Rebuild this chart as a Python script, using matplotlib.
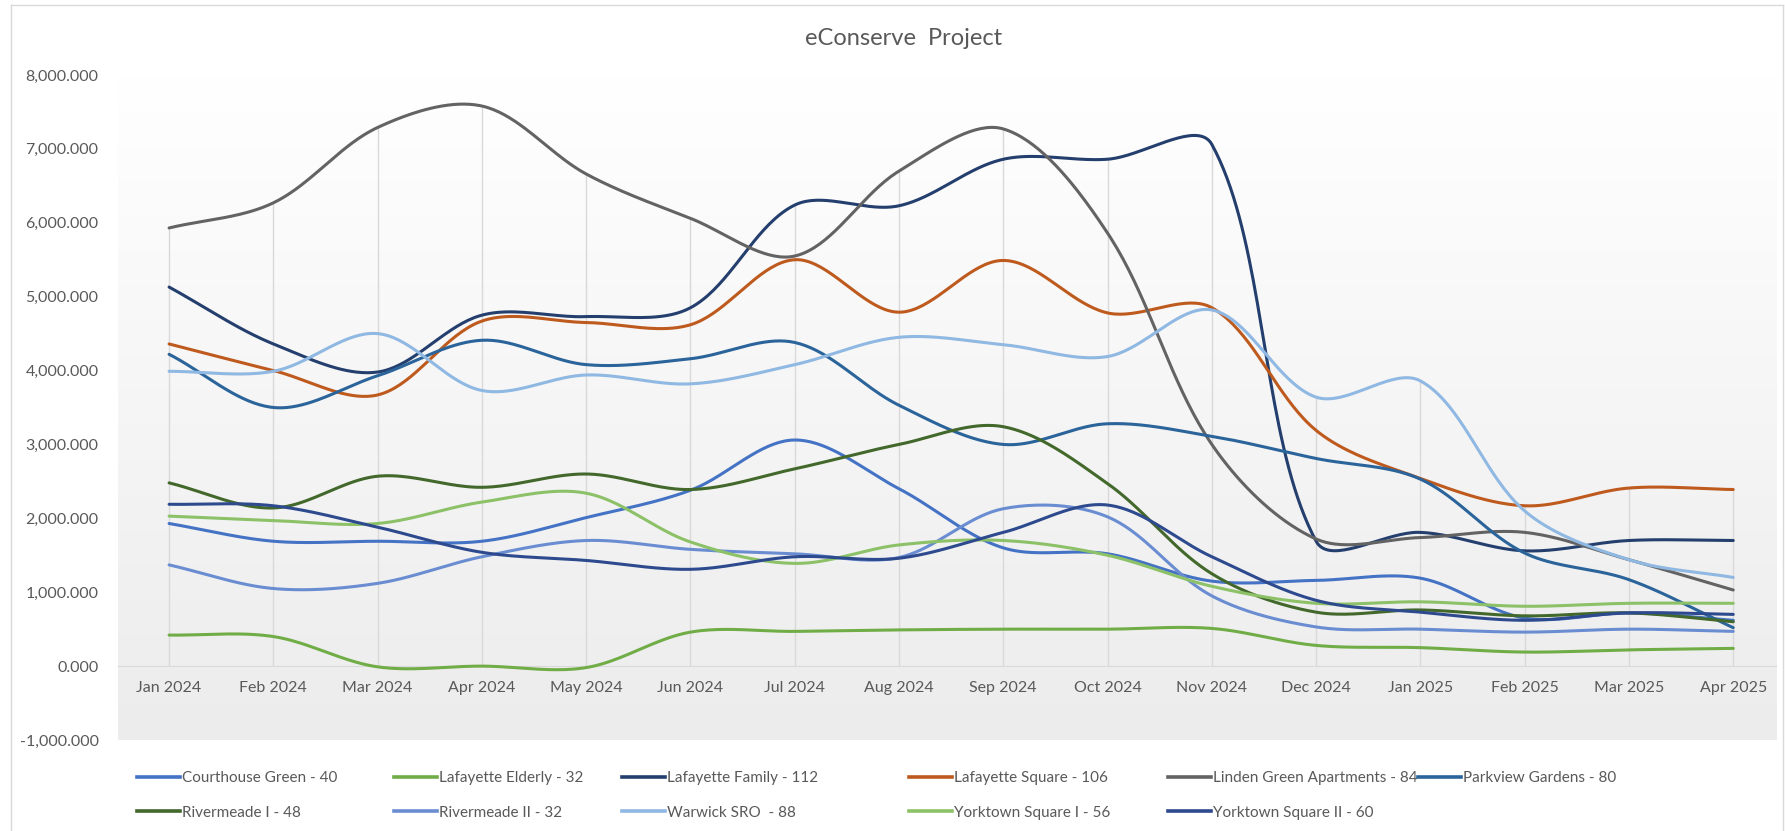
import numpy as np
import matplotlib
matplotlib.use("Agg")
import matplotlib.pyplot as plt
from matplotlib.lines import Line2D

plt.rcParams["font.family"] = ["Lato", "DejaVu Sans"]

# -----------------------------
# data (thousands, axis shows x,xxx.xxx)
# -----------------------------
months = ["Jan 2024", "Feb 2024", "Mar 2024", "Apr 2024", "May 2024", "Jun 2024",
          "Jul 2024", "Aug 2024", "Sep 2024", "Oct 2024", "Nov 2024", "Dec 2024",
          "Jan 2025", "Feb 2025", "Mar 2025", "Apr 2025"]

courthouse_green = [1930, 1690, 1690, 1690, 2010, 2380, 3060, 2400, 1600, 1520, 1150, 1160, 1190, 650, 720, 620]
lafayette_elderly = [420, 400, -10, 0, -20, 460, 470, 490, 500, 500, 510, 280, 250, 190, 220, 240]
lafayette_family = [5130, 4360, 3980, 4750, 4730, 4850, 6240, 6230, 6860, 6860, 7060, 1690, 1810, 1560, 1700, 1700]
lafayette_square = [4360, 4000, 3670, 4670, 4650, 4620, 5500, 4790, 5490, 4780, 4850, 3190, 2540, 2170, 2410, 2390]
linden_green = [5930, 6270, 7290, 7580, 6660, 6060, 5550, 6700, 7270, 5860, 3000, 1720, 1740, 1810, 1440, 1030]
parkview_gardens = [4220, 3500, 3930, 4410, 4080, 4160, 4380, 3530, 3000, 3280, 3110, 2810, 2530, 1530, 1170, 520]
rivermeade_i = [2480, 2140, 2570, 2420, 2600, 2390, 2670, 3000, 3240, 2470, 1250, 730, 760, 680, 720, 600]
rivermeade_ii = [1370, 1050, 1120, 1480, 1700, 1580, 1520, 1470, 2130, 2020, 950, 530, 500, 460, 500, 470]
warwick_sro = [3990, 3990, 4500, 3730, 3940, 3820, 4080, 4450, 4350, 4190, 4820, 3640, 3860, 2100, 1440, 1200]
yorktown_i = [2030, 1970, 1930, 2220, 2340, 1680, 1390, 1640, 1700, 1500, 1080, 850, 870, 810, 850, 850]
yorktown_ii = [2190, 2170, 1880, 1540, 1430, 1310, 1480, 1460, 1810, 2180, 1480, 890, 730, 620, 720, 700]

series = [
    ("Courthouse Green - 40", courthouse_green, "#4472C4"),
    ("Lafayette Elderly - 32", lafayette_elderly, "#70AD47"),
    ("Lafayette Family - 112", lafayette_family, "#243F6E"),
    ("Lafayette Square - 106", lafayette_square, "#BE5A1E"),
    ("Linden Green Apartments - 84", linden_green, "#636363"),
    ("Parkview Gardens - 80", parkview_gardens, "#2A649A"),
    ("Rivermeade I - 48", rivermeade_i, "#43682B"),
    ("Rivermeade II - 32", rivermeade_ii, "#6A8DD2"),
    ("Warwick SRO  - 88", warwick_sro, "#8FB8E2"),
    ("Yorktown Square I - 56", yorktown_i, "#8CC168"),
    ("Yorktown Square II - 60", yorktown_ii, "#2E4A8E"),
]

# pixel size of one category / one unit, used so smoothing works in screen space
PX_X = 104.3
PX_Y = 0.0739


# Excel-style smoothed line: bezier with tangents split by chord length
def smooth(vals, n=40):
    y = np.asarray(vals, float) * PX_Y
    x = np.arange(len(y), dtype=float) * PX_X
    P = np.column_stack([x, y])
    m = len(P)
    out = []
    t = np.linspace(0, 1, n)[:, None]
    for i in range(m - 1):
        p1, p2 = P[i], P[i + 1]
        p0 = P[i - 1] if i > 0 else p1
        p3 = P[i + 2] if i + 2 < m else p2
        d12 = np.linalg.norm(p2 - p1)
        d01 = np.linalg.norm(p1 - p0)
        d23 = np.linalg.norm(p3 - p2)
        b1 = p1 + (p2 - p0) * (d12 / (d01 + d12)) / 3 if i > 0 else p1 + (p2 - p1) / 3
        b2 = p2 - (p3 - p1) * (d12 / (d12 + d23)) / 3 if i + 2 < m else p2 - (p2 - p1) / 3
        seg = ((1 - t) ** 3 * p1 + 3 * (1 - t) ** 2 * t * b1
               + 3 * (1 - t) * t ** 2 * b2 + t ** 3 * p2)
        out.append(seg)
    c = np.vstack(out)
    return c[:, 0] / PX_X, c[:, 1] / PX_Y


W, H = 1785, 831
fig = plt.figure(figsize=(W / 100, H / 100), dpi=100)
ax = fig.add_axes([118 / W, 1 - 740 / H, (1776 - 118) / W, (740 - 75) / H])

# plot area gradient, white on top to light grey at the bottom
grad = np.linspace(0, 1, 256).reshape(-1, 1)
cmap = matplotlib.colors.LinearSegmentedColormap.from_list("g", ["#FFFFFF", "#ECECEC"])
ax.imshow(grad, aspect="auto", cmap=cmap, extent=(-0.49, 15.41, -1000, 8000),
          zorder=0, origin="upper")
ax.set_xlim(-0.49, 15.41)
ax.set_ylim(-1000, 8000)

x = np.arange(len(months))

# drop lines from highest point down to the category axis
top = np.max([s[1] for s in series], axis=0)
ax.vlines(x, 0, top, color="#D9D9D9", lw=1, zorder=1)

for name, vals, col in series:
    sx, sy = smooth(vals)
    ax.plot(sx, sy, color=col, lw=2.2, solid_capstyle="round", zorder=3, label=name)

for side in ["top", "right", "left"]:
    ax.spines[side].set_visible(False)
ax.spines["bottom"].set_position(("data", 0))
ax.spines["bottom"].set_color("#D9D9D9")
ax.spines["bottom"].set_zorder(2)

ax.set_xticks(x)
ax.set_xticklabels(months)
ax.set_yticks(np.arange(-1000, 8001, 1000))
ax.set_yticklabels([f"{v:,.3f}" for v in np.arange(-1000, 8001, 1000)])
ax.tick_params(axis="x", length=0, pad=11, labelsize=11.5, colors="#595959")
ax.tick_params(axis="y", length=0, pad=14, labelsize=11.5, colors="#595959")

fig.text(0.506, 0.954, "eConserve  Project", ha="center", va="center",
         fontsize=17, color="#595959")

# legend: Excel lays entries out row by row, 6 per row, at its own column offsets
col_left = [137, 394, 622, 909, 1168, 1418]
for c, xl in enumerate(col_left):
    idx = [i for i in (c, c + 6) if i < len(series)]
    leg = fig.legend([Line2D([], [], color=series[i][2], lw=2.6) for i in idx],
                     [series[i][0] for i in idx],
                     loc="upper left", bbox_to_anchor=(xl / W, 1 - 771 / H),
                     frameon=False, fontsize=11, handlelength=2.8, handletextpad=0.15,
                     labelspacing=1.35, borderpad=0, borderaxespad=0,
                     labelcolor="#595959")

# chart area border
for xs_, ys_ in [([11, 11], [5, 831]), ([11, 1783], [5, 5]), ([1783, 1783], [5, 831])]:
    fig.add_artist(Line2D(np.array(xs_) / W, 1 - np.array(ys_) / H, color="#D9D9D9", lw=1))

fig.savefig("out.png", dpi=100)
